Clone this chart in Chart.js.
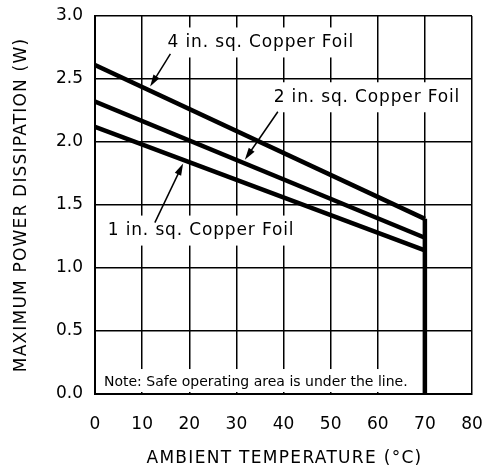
<!DOCTYPE html>
<html>
<head>
<meta charset="utf-8">
<script src="https://cdn.jsdelivr.net/npm/chart.js@4.4.0/dist/chart.umd.min.js"></script>
<style>
  html, body { margin: 0; padding: 0; background: #fff; }
</style>
</head>
<body>
<canvas id="canvas" width="486" height="469"></canvas>
<script>
const ctx = document.getElementById('canvas').getContext('2d')

// ambient temperature (C) at the ends of each derating line
const temps = [0, 70]
const foil4 = [2.61, 1.39]
const foil2 = [2.32, 1.24]
const foil1 = [2.12, 1.14]
// vertical cut-off at 70 C
const limitTemps = [70, 70]
const limitPower = [1.39, 0]

const xTicks = [0, 10, 20, 30, 40, 50, 60, 70, 80]
const yTicks = [0, 0.5, 1.0, 1.5, 2.0, 2.5, 3.0]

const xTitle = 'AMBIENT TEMPERATURE (°C)'
const yTitle = 'MAXIMUM POWER DISSIPATION (W)'

// callouts: text position and arrow (tail -> head), in data units
const callouts = [
  { text: '4 in. sq. Copper Foil', x: 35.2, y: 2.79, from: [16, 2.70], to: [11.7, 2.44] },
  { text: '2 in. sq. Copper Foil', x: 57.7, y: 2.355, from: [38.8, 2.24], to: [31.8, 1.86] },
  { text: '1 in. sq. Copper Foil', x: 22.5, y: 1.297, from: [12.7, 1.36], to: [18.7, 1.83] }
]
const note = 'Note: Safe operating area is under the line.'

const pts = (xs, ys) => xs.map((x, i) => ({ x: x, y: ys[i] }))

const FONT = 'DejaVu Sans'

const lineSet = (data) => ({
  data: data,
  showLine: true,
  borderColor: '#000',
  borderWidth: 4.5,
  pointRadius: 0,
  borderCapStyle: 'butt',
  fill: false
})

const arrow = (c, x1, y1, x2, y2) => {
  const a = Math.atan2(y2 - y1, x2 - x1)
  const len = 12, w = 3.5
  c.beginPath()
  c.moveTo(x1, y1)
  c.lineTo(x2 - Math.cos(a) * len * 0.8, y2 - Math.sin(a) * len * 0.8)
  c.lineWidth = 1.5
  c.strokeStyle = '#000'
  c.stroke()
  c.beginPath()
  c.moveTo(x2, y2)
  c.lineTo(x2 - Math.cos(a) * len - Math.sin(a) * w, y2 - Math.sin(a) * len + Math.cos(a) * w)
  c.lineTo(x2 - Math.cos(a) * len + Math.sin(a) * w, y2 - Math.sin(a) * len - Math.cos(a) * w)
  c.closePath()
  c.fillStyle = '#000'
  c.fill()
}

const labelsPlugin = {
  id: 'labels',
  beforeDatasetsDraw(chart) {
    const c = chart.ctx
    const xs = chart.scales.x, ys = chart.scales.y
    const area = chart.chartArea
    c.save()
    c.font = '17px "' + FONT + '"'
    c.letterSpacing = '0.85px'
    c.textAlign = 'center'
    c.textBaseline = 'middle'
    callouts.forEach(l => {
      const px = xs.getPixelForValue(l.x), py = ys.getPixelForValue(l.y)
      const w = c.measureText(l.text).width
      c.fillStyle = '#fff'
      c.fillRect(px - w / 2 - 6, py - 15, w + 12, 30)
      c.fillStyle = '#000'
      c.fillText(l.text, px, py)
      arrow(c, xs.getPixelForValue(l.from[0]), ys.getPixelForValue(l.from[1]),
        xs.getPixelForValue(l.to[0]), ys.getPixelForValue(l.to[1]))
    })
    // note along the bottom
    c.font = '14px "' + FONT + '"'
    c.letterSpacing = '0px'
    c.textAlign = 'left'
    const nx = xs.getPixelForValue(1.9), ny = ys.getPixelForValue(0.095)
    const nw = c.measureText(note).width
    c.fillStyle = '#fff'
    c.fillRect(area.left + 2, ny - 13, nw + 16, area.bottom - 2 - (ny - 13))
    c.fillStyle = '#000'
    c.fillText(note, nx, ny)
    c.restore()
  },
  afterDraw(chart) {
    // axis titles, drawn here so they can be letter-spaced
    const c = chart.ctx
    const area = chart.chartArea
    c.save()
    c.font = '17px "' + FONT + '"'
    c.letterSpacing = '1.3px'
    c.fillStyle = '#000'
    c.textAlign = 'center'
    c.textBaseline = 'middle'
    c.fillText(xTitle, (area.left + area.right) / 2 + 1, 459)
    c.translate(22, (area.top + area.bottom) / 2)
    c.rotate(-Math.PI / 2)
    c.letterSpacing = '1.2px'
    c.fillText(yTitle, 0, 0)
    c.restore()
  }
}

new Chart(ctx, {
  type: 'scatter',
  data: {
    datasets: [
      lineSet(pts(temps, foil4)),
      lineSet(pts(temps, foil2)),
      lineSet(pts(temps, foil1)),
      lineSet(pts(limitTemps, limitPower))
    ]
  },
  options: {
    responsive: false,
    animation: false,
    layout: { padding: { top: 16, right: 14, left: 0, bottom: 0 } },
    plugins: { legend: { display: false }, tooltip: { enabled: false } },
    scales: {
      x: {
        type: 'linear',
        min: 0,
        max: 80,
        afterBuildTicks: (s) => { s.ticks = xTicks.map(v => ({ value: v })) },
        afterFit: (s) => { s.height = 75; s.paddingLeft = 0; s.paddingRight = 0 },
        grid: { color: '#000', lineWidth: 1.5, drawTicks: false },
        border: { color: '#000', width: 2 },
        ticks: { color: '#000', padding: 20, font: { family: FONT, size: 17 } }
      },
      y: {
        type: 'linear',
        min: 0,
        max: 3,
        afterBuildTicks: (s) => { s.ticks = yTicks.map(v => ({ value: v })) },
        afterFit: (s) => { s.width = 95; s.paddingTop = 0; s.paddingBottom = 0 },
        grid: { color: '#000', lineWidth: 1.5, drawTicks: false },
        border: { color: '#000', width: 2 },
        ticks: { color: '#000', padding: 12, font: { family: FONT, size: 17 }, callback: (v) => v.toFixed(1) }
      }
    }
  },
  plugins: [labelsPlugin]
})
</script>
</body>
</html>
